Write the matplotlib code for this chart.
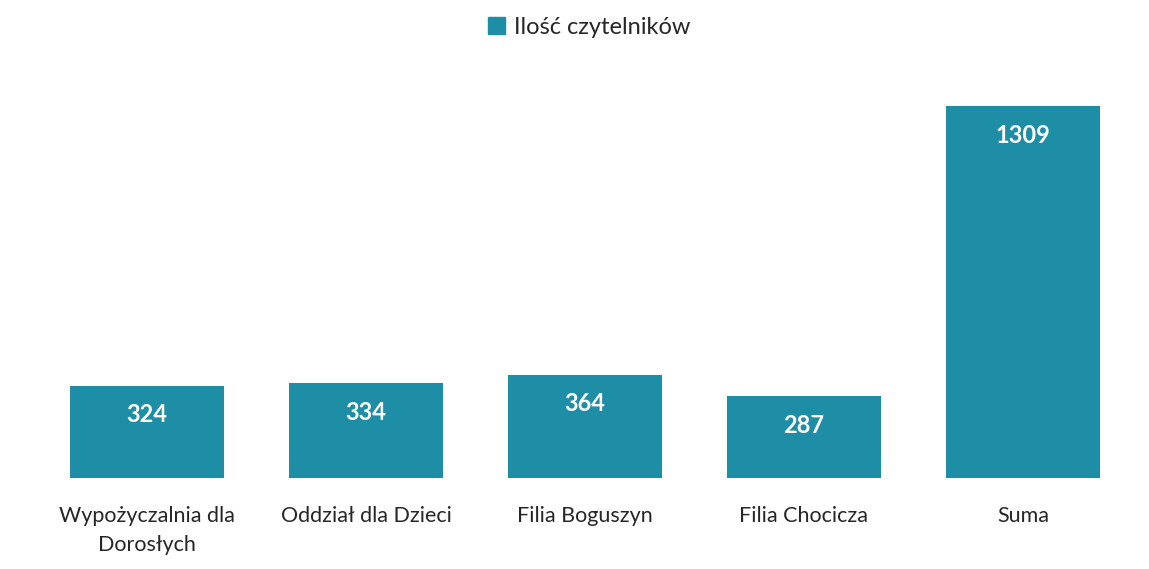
import matplotlib.pyplot as plt
from matplotlib.patches import Patch

categories = ["Wypożyczalnia dla\nDorosłych", "Oddział dla Dzieci", "Filia Boguszyn",
              "Filia Chocicza", "Suma"]
readers = [324, 334, 364, 287, 1309]
series_name = "Ilość czytelników"

bar_color = "#1e8ea6"
text_color = "#262626"
plt.rcParams["font.family"] = ["Lato", "DejaVu Sans"]

fig = plt.figure(figsize=(11.49, 5.69), dpi=100)
ax = fig.add_axes([0.0326, 0.160, 0.953, 0.699])

x = range(len(categories))
bars = ax.bar(x, readers, width=0.70, color=bar_color)

# value labels inside the top of each bar
for rect, v in zip(bars, readers):
    ax.annotate(str(v), (rect.get_x() + rect.get_width() / 2, v),
                xytext=(0, -29), textcoords="offset pixels",
                ha="center", va="center", color="white", fontsize=17, fontweight="bold")

ax.set_xlim(-0.5, len(categories) - 0.5)
ax.set_ylim(0, 1400)
ax.set_xticks(list(x))
ax.set_xticklabels(categories, fontsize=15.5, color=text_color, linespacing=1.55)
ax.tick_params(axis="x", length=0, pad=20)
ax.set_yticks([])
for s in ax.spines.values():
    s.set_visible(False)

fig.legend(handles=[Patch(color=bar_color, label=series_name)], loc="center",
           bbox_to_anchor=(0.513, 0.952), frameon=False, fontsize=17,
           handlelength=0.7, handleheight=0.7, handletextpad=0.4,
           labelcolor=text_color)

fig.savefig("out.png", dpi=100)
